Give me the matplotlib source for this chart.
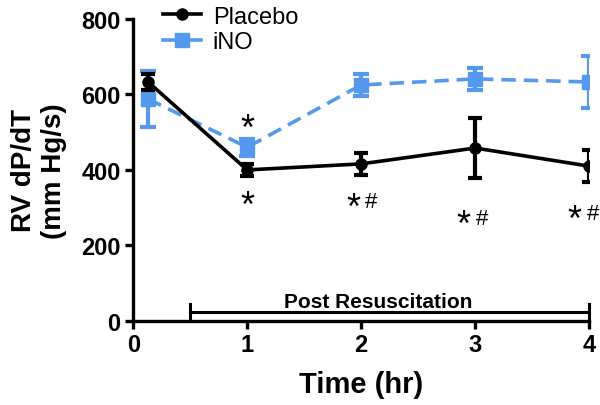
import matplotlib
matplotlib.use("Agg")
import matplotlib.pyplot as plt
from matplotlib.lines import Line2D

plt.rcParams['font.family'] = ['Liberation Sans', 'DejaVu Sans']

time_placebo = [0.13, 1, 2, 3, 4]
placebo = [633, 400, 416, 458, 410]
placebo_err = [20, 17, 30, 80, 42]

time_ino = [0.13, 1, 2, 3, 4]
ino = [588, 460, 625, 641, 633]
ino_err = [75, 22, 30, 30, 70]

star_x = [1, 1.93, 2.9, 3.87]
star_y = [302, 299, 253, 267]
hash_x = [2.09, 3.06, 4.03]
hash_y = [317, 271, 285]
ino_star_x = [1]
ino_star_y = [506]

xticks = [0, 1, 2, 3, 4]
yticks = [0, 200, 400, 600, 800]

blue = '#5599EE'

fig = plt.figure(figsize=(6, 4.06), dpi=100)
ax = fig.add_axes([0.222, 0.207, 0.76, 0.744])

ax.errorbar(time_placebo, placebo, yerr=placebo_err, color='black', lw=2.6,
            marker='o', ms=8, capsize=5, capthick=3, elinewidth=3, zorder=3)
ax.errorbar(time_ino, ino, yerr=ino_err, color=blue, lw=2.6, ls=(0, (4, 2.2)),
            marker='s', ms=10, capsize=6, capthick=3, elinewidth=3, zorder=2)

for x, y in zip(star_x, star_y):
    ax.text(x, y, "*", ha='center', va='center', fontsize=26)
for x, y in zip(hash_x, hash_y):
    ax.text(x, y, "#", ha='center', va='center', fontsize=16, clip_on=False)
for x, y in zip(ino_star_x, ino_star_y):
    ax.text(x, y, "*", ha='center', va='center', fontsize=26)

# Post resuscitation bracket
ax.plot([0.5, 4], [24, 24], color='black', lw=2.2, clip_on=False)
ax.plot([0.5, 0.5], [3, 45], color='black', lw=2.2, clip_on=False)
ax.plot([4, 4], [3, 45], color='black', lw=2.2, clip_on=False)
ax.text(2.15, 27, "Post Resuscitation", ha='center', va='bottom', fontsize=15, fontweight='bold')

ax.set_xlim(0, 4)
ax.set_ylim(0, 800)
ax.set_xticks(xticks)
ax.set_yticks(yticks)
ax.set_xticklabels([str(t) for t in xticks], fontsize=17, fontweight='bold')
ax.set_yticklabels([str(t) for t in yticks], fontsize=17, fontweight='bold')
for s in ['top', 'right']:
    ax.spines[s].set_visible(False)
for s in ['left', 'bottom']:
    ax.spines[s].set_linewidth(2.4)
ax.tick_params(width=2.4, length=6, pad=3)
ax.set_xlabel("Time (hr)", fontsize=21, fontweight='bold', labelpad=10)
ax.set_ylabel("RV dP/dT\n(mm Hg/s)", fontsize=20, fontweight='bold', labelpad=10)

handles = [Line2D([], [], color='black', lw=2.6, marker='o', ms=8),
           Line2D([], [], color=blue, lw=2.6, marker='s', ms=10)]
leg = ax.legend(handles, ['Placebo', 'iNO'], loc='upper left', bbox_to_anchor=(0.045, 1.075),
                frameon=False, fontsize=17, handlelength=1.6, handletextpad=0.5,
                borderaxespad=0, labelspacing=0.15)

fig.savefig("out.png", dpi=100)
